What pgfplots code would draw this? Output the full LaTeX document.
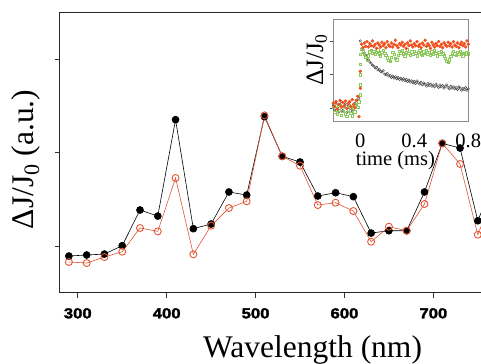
\documentclass[border=0pt]{standalone}
\usepackage{pgfplots}
\pgfplotsset{compat=1.18}
\usepackage{fontspec}
\setmainfont{Liberation Serif}
\newfontfamily\tickfont[FakeStretch=1.15,FakeBold=2]{Liberation Sans Bold}
\definecolor{morange}{RGB}{226,84,50}
\definecolor{iorange}{RGB}{240,80,30}
\definecolor{igreen}{RGB}{140,200,90}
\definecolor{iblack}{RGB}{70,70,70}
\begin{document}
\begin{tikzpicture}
\begin{axis}[
  name=main, at={(0,0)}, anchor=south west,
  scale only axis, width=426.7bp, height=280bp,
  xmin=280, xmax=760, ymin=-0.5, ymax=2.5,
  xtick={300,400,500,600,700}, ytick={0,1,2}, yticklabels={},
  xtick pos=bottom, ytick pos=left, tick align=outside,
  major tick length=5bp,
  axis line style={line width=1bp, black!85},
  tick style={line width=0.8bp, black!80},
  /pgf/number format/assume math mode=true,
  xticklabel style={font=\tickfont\fontsize{14.5bp}{14.5bp}\selectfont, yshift=-7bp},
  xlabel={Wavelength (nm)},
  xlabel style={font=\fontsize{31.5bp}{34bp}\selectfont, at={(axis description cs:0.592,-0.23)}, anchor=base},
  ylabel={ΔJ/J\textsubscript{0} (a.u.)},
  ylabel style={font=\fontsize{31.5bp}{34bp}\selectfont, at={(axis description cs:-0.047,0.476)}, anchor=south, inner sep=0pt},
  clip=true,
]
\addplot[black, line width=0.6bp, mark=*, mark size=3.5bp, mark options={fill=black}] coordinates {
(290,-0.107) (310,-0.096) (330,-0.086) (350,0.004) (370,0.386) (390,0.321)
(410,1.354) (430,0.186) (450,0.236) (470,0.579) (490,0.546) (510,1.386)
(530,0.961) (550,0.90) (570,0.536) (590,0.571) (610,0.529) (630,0.139)
(650,0.164) (670,0.164) (690,0.579) (710,1.10) (730,1.05) (750,0.271) (770,0.73)
};
\addplot[morange, line width=0.6bp, mark=o, mark size=3.5bp, mark options={fill=white, line width=0.9bp}] coordinates {
(290,-0.171) (310,-0.182) (330,-0.118) (350,-0.061) (370,0.193) (390,0.157)
(410,0.729) (430,-0.089) (450,0.218) (470,0.407) (490,0.479) (510,1.40)
(530,0.961) (550,0.861) (570,0.439) (590,0.464) (610,0.375) (630,0.046)
(650,0.207) (670,0.164) (690,0.45) (710,1.10) (730,0.879) (750,0.121) (770,0.60)
};
\end{axis}
\begin{axis}[
  at={(273.3bp,170.7bp)}, anchor=south west,
  scale only axis, width=135bp, height=102.7bp,
  xmin=-0.2, xmax=0.8, ymin=-0.2, ymax=1.32,
  axis background/.style={fill=white},
  xtick={0,0.4,0.8}, ytick={0,0.5,1}, yticklabels={},
  xticklabels={0,0.4,0.8},
  xtick pos=bottom, ytick pos=left, tick align=outside,
  major tick length=3bp,
  xtick style={draw=none},
  ytick style={line width=0.6bp, black!70},
  axis line style={line width=1bp, black!45},
  ticklabel style={font=\fontsize{20.5bp}{22bp}\selectfont},
  xticklabel style={yshift=-5bp},
  xlabel={time (ms)},
  xlabel style={font=\fontsize{20.5bp}{22bp}\selectfont, at={(axis description cs:0.46,-0.425)}, anchor=base},
  ylabel={ΔJ/J\textsubscript{0}},
  ylabel style={font=\fontsize{25bp}{27bp}\selectfont, at={(axis description cs:-0.045,0.607)}, anchor=south, inner sep=0pt},
  clip=true,
]
% black trace
\addplot[only marks, iblack, mark=o, mark size=1.2bp, mark options={line width=0.45bp}] coordinates {
(-0.20,0.05) (-0.19,-0.02) (-0.18,0.08) (-0.17,0.01) (-0.16,-0.05) (-0.15,0.06) (-0.14,0.10) (-0.13,-0.03) (-0.12,0.02) (-0.11,0.07)
(-0.10,-0.06) (-0.09,0.04) (-0.08,0.09) (-0.07,0.00) (-0.06,-0.04) (-0.05,0.03) (-0.04,0.08) (-0.03,0.05) (-0.02,0.12) (-0.01,0.15)
(0.0,1.00)
(0.01,0.95) (0.02,0.87) (0.03,0.82) (0.04,0.79) (0.05,0.74) (0.06,0.72) (0.07,0.69) (0.08,0.67) (0.09,0.64) (0.10,0.63)
(0.11,0.60) (0.12,0.61) (0.13,0.57) (0.14,0.58) (0.15,0.55) (0.16,0.54) (0.17,0.56) (0.18,0.51) (0.19,0.50) (0.20,0.52)
(0.21,0.48) (0.22,0.49) (0.23,0.46) (0.24,0.48) (0.25,0.45) (0.26,0.47) (0.27,0.44) (0.28,0.46) (0.29,0.43) (0.30,0.45)
(0.31,0.42) (0.32,0.44) (0.33,0.41) (0.34,0.43) (0.35,0.40) (0.36,0.42) (0.37,0.39) (0.38,0.41) (0.39,0.38) (0.40,0.40)
(0.41,0.37) (0.42,0.41) (0.43,0.38) (0.44,0.36) (0.45,0.39) (0.46,0.35) (0.47,0.38) (0.48,0.36) (0.49,0.33) (0.50,0.37)
(0.51,0.34) (0.52,0.36) (0.53,0.33) (0.54,0.35) (0.55,0.32) (0.56,0.36) (0.57,0.33) (0.58,0.31) (0.59,0.35) (0.60,0.32)
(0.61,0.34) (0.62,0.30) (0.63,0.33) (0.64,0.35) (0.65,0.31) (0.66,0.29) (0.67,0.33) (0.68,0.30) (0.69,0.32) (0.70,0.29)
(0.71,0.31) (0.72,0.28) (0.73,0.32) (0.74,0.30) (0.75,0.27) (0.76,0.30) (0.77,0.28) (0.78,0.31) (0.79,0.27) (0.80,0.29)
};
% green trace
\addplot[only marks, igreen, mark=square, mark size=1.2bp, mark options={line width=0.6bp}] coordinates {
(-0.20,0.02) (-0.19,-0.06) (-0.18,0.04) (-0.17,-0.09) (-0.16,-0.03) (-0.15,0.05) (-0.14,-0.10) (-0.13,-0.04) (-0.12,0.03) (-0.11,-0.08)
(-0.10,-0.12) (-0.09,-0.02) (-0.08,0.04) (-0.07,-0.07) (-0.06,-0.11) (-0.05,0.01) (-0.04,-0.05) (-0.03,0.06) (-0.02,0.02) (-0.01,0.10)
(0.0,0.20) (0.0,0.35) (0.0,0.50) (0.0,0.65) (0.0,0.80)
(0.01,0.88) (0.02,0.84) (0.03,0.80) (0.04,0.76) (0.05,0.72) (0.06,0.78) (0.07,0.84) (0.08,0.86) (0.09,0.82) (0.10,0.85)
(0.11,0.80) (0.12,0.83) (0.13,0.87) (0.14,0.81) (0.15,0.78) (0.16,0.83) (0.17,0.86) (0.18,0.82) (0.19,0.79) (0.20,0.75)
(0.21,0.71) (0.22,0.70) (0.23,0.76) (0.24,0.83) (0.25,0.80) (0.26,0.74) (0.27,0.72) (0.28,0.79) (0.29,0.85) (0.30,0.82)
(0.31,0.86) (0.32,0.81) (0.33,0.78) (0.34,0.83) (0.35,0.87) (0.36,0.82) (0.37,0.79) (0.38,0.84) (0.39,0.80) (0.40,0.85)
(0.41,0.82) (0.42,0.78) (0.43,0.83) (0.44,0.86) (0.45,0.81) (0.46,0.79) (0.47,0.84) (0.48,0.82) (0.49,0.86) (0.50,0.80)
(0.51,0.83) (0.52,0.79) (0.53,0.84) (0.54,0.81) (0.55,0.86) (0.56,0.82) (0.57,0.78) (0.58,0.83) (0.59,0.80) (0.60,0.84)
(0.61,0.81) (0.62,0.78) (0.63,0.74) (0.64,0.70) (0.65,0.68) (0.66,0.72) (0.67,0.77) (0.68,0.82) (0.69,0.85) (0.70,0.81)
(0.71,0.79) (0.72,0.83) (0.73,0.80) (0.74,0.84) (0.75,0.81) (0.76,0.78) (0.77,0.82) (0.78,0.80) (0.79,0.83) (0.80,0.81)
};
% orange trace
\addplot[only marks, iorange, mark=*, mark size=1.5bp] coordinates {
(-0.20,0.08) (-0.19,0.03) (-0.18,0.10) (-0.17,-0.01) (-0.16,0.06) (-0.15,0.12) (-0.14,0.02) (-0.13,0.09) (-0.12,0.04) (-0.11,0.11)
(-0.10,0.00) (-0.09,0.07) (-0.08,0.10) (-0.07,0.03) (-0.06,0.13) (-0.05,0.06) (-0.04,0.01) (-0.03,0.12) (-0.02,0.18) (-0.01,-0.12)
(0.0,0.30) (0.0,0.55)
(0.01,0.95) (0.02,0.90) (0.03,0.97) (0.04,0.92) (0.05,0.99) (0.06,0.91) (0.07,0.96) (0.08,0.93) (0.09,1.00) (0.10,0.92)
(0.11,0.95) (0.12,0.89) (0.13,0.97) (0.14,0.94) (0.15,0.91) (0.16,0.98) (0.17,0.93) (0.18,0.96) (0.19,0.90) (0.20,0.99)
(0.21,0.94) (0.22,0.92) (0.23,0.97) (0.24,0.91) (0.25,0.95) (0.26,1.01) (0.27,0.93) (0.28,0.90) (0.29,0.96) (0.30,0.94)
(0.31,0.98) (0.32,0.92) (0.33,0.95) (0.34,0.89) (0.35,0.97) (0.36,0.93) (0.37,1.00) (0.38,0.94) (0.39,0.91) (0.40,0.96)
(0.41,0.93) (0.42,0.99) (0.43,0.92) (0.44,0.95) (0.45,0.90) (0.46,0.97) (0.47,0.94) (0.48,1.01) (0.49,0.92) (0.50,0.96)
(0.51,0.93) (0.52,0.89) (0.53,0.98) (0.54,0.94) (0.55,0.91) (0.56,0.96) (0.57,0.93) (0.58,0.99) (0.59,0.92) (0.60,0.95)
(0.61,0.90) (0.62,0.97) (0.63,0.94) (0.64,0.92) (0.65,0.98) (0.66,0.93) (0.67,0.96) (0.68,0.91) (0.69,0.99) (0.70,0.94)
(0.71,0.92) (0.72,0.97) (0.73,0.90) (0.74,0.95) (0.75,0.98) (0.76,0.93) (0.77,0.96) (0.78,0.91) (0.79,1.00) (0.80,0.95)
};
\end{axis}
\pgfresetboundingbox
\path (-60bp,-71.3bp) rectangle (421bp,292.7bp);
\end{tikzpicture}
\end{document}
